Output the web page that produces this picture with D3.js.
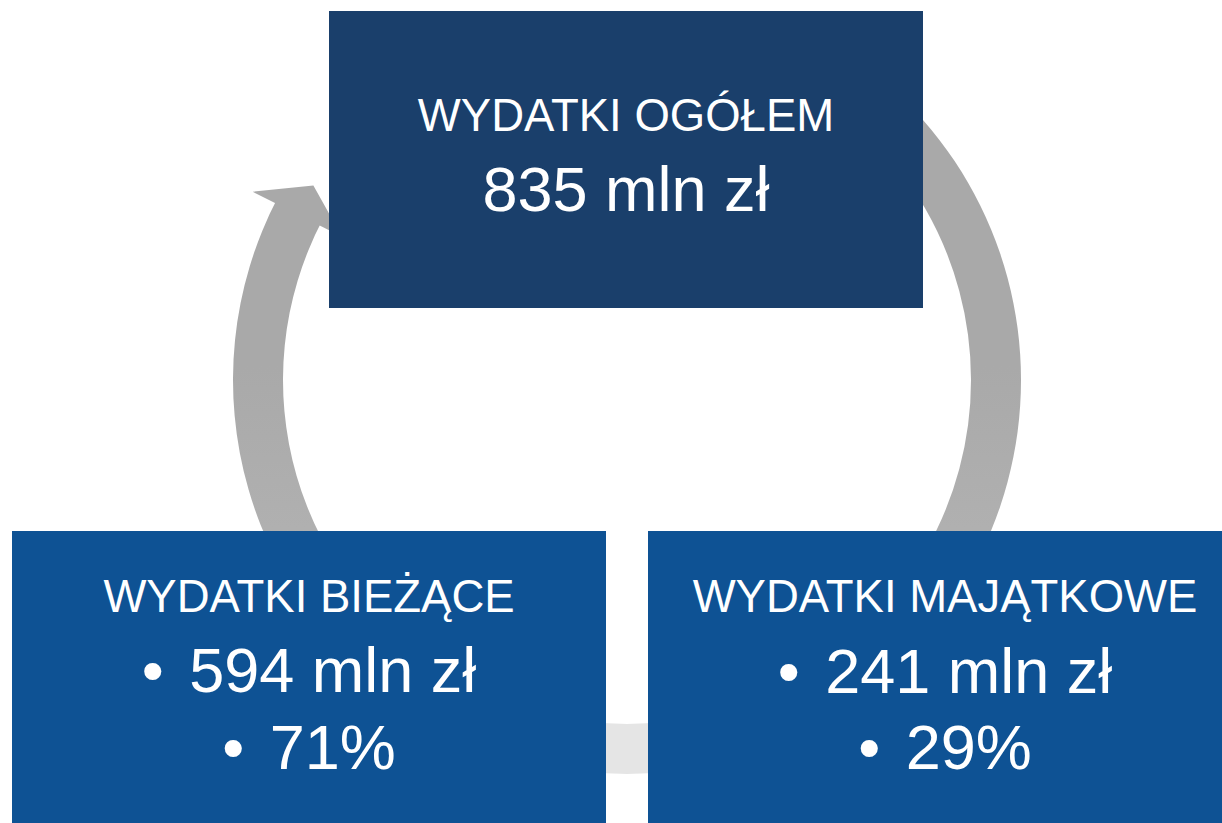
<!DOCTYPE html>
<html>
<head>
<meta charset="utf-8">
<script src="https://cdn.jsdelivr.net/npm/d3@7"></script>
<style>
  html, body { margin: 0; padding: 0; background: #fff; }
  svg { display: block; }
</style>
</head>
<body>
<div id="viz"></div>
<script>
// data
var categories = ['WYDATKI OGÓŁEM', 'WYDATKI BIEŻĄCE', 'WYDATKI MAJĄTKOWE'];
var amounts = [835, 594, 241];
var shares = [null, 71, 29];
var unit = 'mln zł';

var width = 1222;
var height = 823;

// box layout: top, bottom-left, bottom-right
var boxes = [
  {x: 329, y: 11, w: 594, h: 297, fill: '#1a3f6b', lines: [131, 211]},
  {x: 12, y: 531, w: 594, h: 292, fill: '#0e5294', lines: [612, 692, 769]},
  {x: 648, y: 531, w: 594, h: 292, fill: '#0e5294', lines: [612, 693, 769]}
];

var cx = 627, cy = 380;
var rInner = 344, rOuter = 394;
var deg = Math.PI / 180;

var svg = d3.select('#viz')
  .append('svg')
  .attr('width', width)
  .attr('height', height);

var defs = svg.append('defs');

var sideGrad = defs.append('linearGradient')
  .attr('id', 'sideGrad')
  .attr('gradientUnits', 'userSpaceOnUse')
  .attr('x1', 0).attr('y1', cy - rOuter)
  .attr('x2', 0).attr('y2', cy + rOuter);
sideGrad.append('stop').attr('offset', 0).attr('stop-color', '#a9a9a9');
sideGrad.append('stop').attr('offset', 1).attr('stop-color', '#cbcbcb');

var bottomGrad = defs.append('linearGradient')
  .attr('id', 'bottomGrad')
  .attr('gradientUnits', 'userSpaceOnUse')
  .attr('x1', 0).attr('y1', cy + rInner)
  .attr('x2', 0).attr('y2', cy + rOuter);
bottomGrad.append('stop').attr('offset', 0).attr('stop-color', '#e5e5e5');
bottomGrad.append('stop').attr('offset', 1).attr('stop-color', '#f3f3f3');

var ring = svg.append('g')
  .attr('transform', `translate(${cx},${cy})`);

var arc = d3.arc().innerRadius(rInner).outerRadius(rOuter);

// arrow base / tip angles for the visible left arrow
var baseAngle = -63.3 * deg;
var tipAngle = -58.2 * deg;

var segments = [
  {start: 30 * deg, end: 150 * deg, fill: 'url(#sideGrad)'},
  {start: 150 * deg, end: 210 * deg, fill: 'url(#bottomGrad)'},
  {start: -150 * deg, end: baseAngle + 1 * deg, fill: 'url(#sideGrad)'}
];

ring.selectAll('path.seg')
  .data(segments)
  .enter().append('path')
  .attr('class', 'seg')
  .attr('d', function(d) {
    return arc({startAngle: d.start, endAngle: d.end});
  })
  .attr('fill', function(d) { return d.fill; });

var rMid = (rInner + rOuter) / 2;
var head = [
  [baseAngle, rOuter],
  [baseAngle, rOuter + 25],
  [tipAngle, rMid],
  [baseAngle, rInner - 25],
  [baseAngle, rInner]
];

ring.append('path')
  .attr('d', d3.lineRadial()
    .angle(function(d) { return d[0]; })
    .radius(function(d) { return d[1]; })
    .curve(d3.curveLinearClosed)(head))
  .attr('fill', 'url(#sideGrad)');

// boxes
var g = svg.selectAll('g.box')
  .data(boxes)
  .enter().append('g')
  .attr('class', 'box');

g.append('rect')
  .attr('x', function(d) { return d.x; })
  .attr('y', function(d) { return d.y; })
  .attr('width', function(d) { return d.w; })
  .attr('height', function(d) { return d.h; })
  .attr('fill', function(d) { return d.fill; });

g.each(function(d, i) {
  var el = d3.select(this);
  var mid = d.x + d.w / 2;
  var rows = [{bullet: false, t: categories[i]}];
  if (i === 0) {
    rows.push({bullet: false, t: amounts[i] + ' ' + unit});
  } else {
    rows.push({bullet: true, t: amounts[i] + ' ' + unit});
    rows.push({bullet: true, t: shares[i] + '%'});
  }
  rows.forEach(function(r, j) {
    var txt = el.append('text')
      .attr('x', mid)
      .attr('y', d.lines[j])
      .attr('text-anchor', 'middle')
      .attr('fill', '#ffffff')
      .style('font-family', '"Liberation Sans", Arial, sans-serif')
      .style('font-size', j === 0 ? '45.5px' : '63px');
    if (r.bullet) {
      txt.append('tspan').text('•');
      txt.append('tspan').attr('dx', 8).text(' ' + r.t);
    } else {
      txt.text(r.t);
    }
  });
});
</script>
</body>
</html>
